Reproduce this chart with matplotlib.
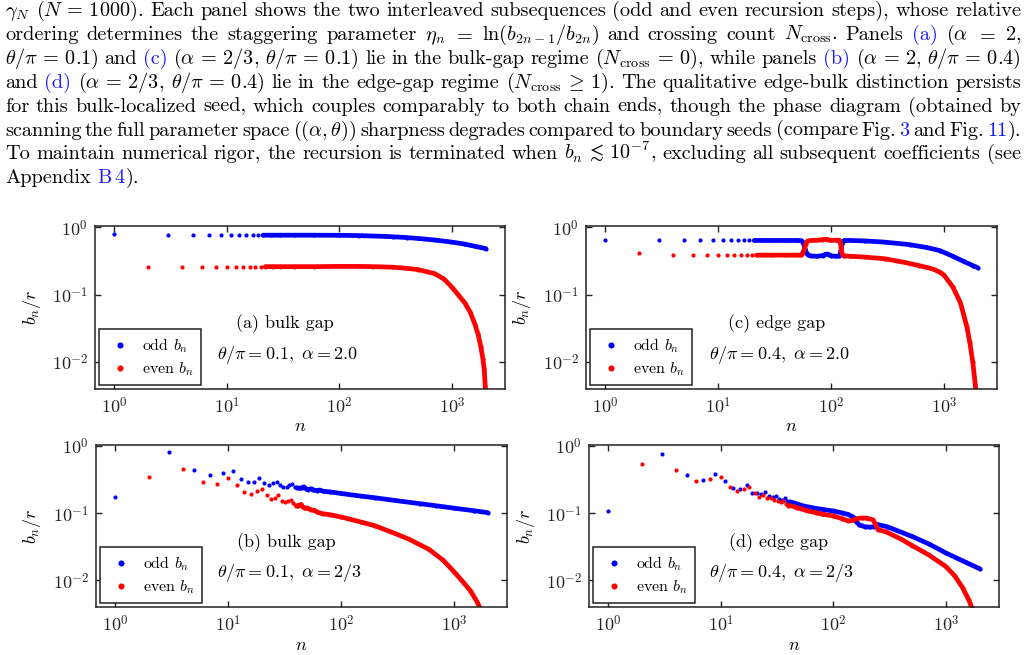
import matplotlib
matplotlib.use('Agg')
import matplotlib.pyplot as plt
from matplotlib.lines import Line2D
import numpy as np

plt.rcParams['font.family'] = 'serif'
plt.rcParams['font.serif'] = ['cmr10']
plt.rcParams['mathtext.fontset'] = 'cm'
plt.rcParams['axes.formatter.use_mathtext'] = True

# ---- caption text above the figure (blue link parts between § marks) ----
PAR_LINES = [
    r"$\gamma_N$ ($N\,=\,1000$). Each panel shows the two interleaved subsequences (odd and even recursion steps), whose relative",
    r"ordering determines the staggering parameter $\eta_n$ $=$ $\ln(b_{2n-1}/b_{2n})$ and crossing count $N_{\mathrm{cross}}$. Panels §(a)§ ($\alpha$ $=$ $2$,",
    r"$\theta/\pi\,=\,0.1$) and §(c)§ ($\alpha\,=\,2/3$, $\theta/\pi\,=\,0.1$) lie in the bulk-gap regime ($N_{\mathrm{cross}}\,=\,0$), while panels §(b)§ ($\alpha\,=\,2$, $\theta/\pi\,=\,0.4$)",
    r"and §(d)§ ($\alpha\,=\,2/3$, $\theta/\pi\,=\,0.4$) lie in the edge-gap regime ($N_{\mathrm{cross}}\,\geq\,1$). The qualitative edge-bulk distinction persists",
    r"for this bulk-localized seed, which couples comparably to both chain ends, though the phase diagram (obtained by",
    r"scanning the full parameter space ($(\alpha, \theta)$) sharpness degrades compared to boundary seeds (compare Fig. §3§ and Fig. §11§).",
    r"To maintain numerical rigor, the recursion is terminated when $b_n\,\lesssim\,10^{-7}$, excluding all subsequent coefficients (see",
    r"Appendix §B$\,$4§).",
]

# ---- panel data ----
# (a) bulk gap, theta/pi = 0.1, alpha = 2.0
N_ODD_A = [1, 3, 5, 7, 9, 11, 13, 15, 17, 19, 21, 25, 30, 40, 60, 100, 150, 250, 300,
           400, 500, 700, 1000, 1300, 1600, 1999]
B_ODD_A = [0.79, 0.76, 0.76, 0.76, 0.76, 0.76, 0.76, 0.76, 0.76, 0.76, 0.76, 0.76, 0.76,
           0.76, 0.76, 0.757, 0.75, 0.73, 0.72, 0.70, 0.68, 0.645, 0.60, 0.56, 0.52, 0.48]
N_EVEN_A = [2, 4, 6, 8, 10, 12, 14, 16, 18, 20, 22, 26, 30, 40, 60, 100, 150, 200, 300,
            400, 500, 700, 850, 1000, 1150, 1300, 1450, 1600, 1700, 1800, 1880, 1930, 1970, 2000]
B_EVEN_A = [0.26, 0.26, 0.26, 0.26, 0.26, 0.26, 0.26, 0.26, 0.26, 0.26, 0.26, 0.26, 0.26,
            0.26, 0.26, 0.262, 0.262, 0.26, 0.255, 0.245, 0.235, 0.205, 0.17, 0.128, 0.097,
            0.075, 0.055, 0.036, 0.026, 0.017, 0.011, 0.0078, 0.0045, 0.0025]

# (c) edge gap, theta/pi = 0.4, alpha = 2.0
N_ODD_C = [1, 3, 5, 7, 9, 11, 13, 15, 17, 19, 21, 25, 30, 40, 50, 55, 57, 59, 61, 63, 67,
           75, 85, 89, 93, 97, 101, 111, 119, 121, 123, 125, 127, 131, 150, 200, 300, 500,
           700, 920, 1200, 1500, 1800, 1999]
B_ODD_C = [0.64, 0.635, 0.635, 0.635, 0.635, 0.635, 0.635, 0.635, 0.635, 0.635, 0.635,
           0.635, 0.635, 0.635, 0.635, 0.63, 0.58, 0.48, 0.41, 0.385, 0.375, 0.37, 0.38,
           0.395, 0.40, 0.39, 0.375, 0.37, 0.375, 0.40, 0.47, 0.56, 0.61, 0.635, 0.635,
           0.625, 0.60, 0.55, 0.50, 0.45, 0.37, 0.31, 0.27, 0.25]
N_EVEN_C = [2, 4, 6, 8, 10, 12, 14, 16, 18, 20, 22, 26, 30, 40, 50, 54, 56, 58, 60, 62, 66,
            74, 84, 88, 92, 96, 100, 110, 118, 120, 122, 124, 126, 130, 150, 200, 300, 450,
            600, 800, 920, 1000, 1200, 1400, 1600, 1700, 1800, 1900, 1950]
B_EVEN_C = [0.42, 0.39, 0.385, 0.385, 0.385, 0.385, 0.385, 0.385, 0.385, 0.385, 0.385,
            0.385, 0.385, 0.385, 0.385, 0.385, 0.40, 0.47, 0.57, 0.62, 0.635, 0.64, 0.65,
            0.665, 0.66, 0.645, 0.64, 0.64, 0.64, 0.62, 0.55, 0.45, 0.40, 0.375, 0.37, 0.36,
            0.34, 0.30, 0.27, 0.24, 0.215, 0.195, 0.13, 0.076, 0.033, 0.019, 0.010, 0.0045,
            0.003]

# (b) bulk gap, theta/pi = 0.1, alpha = 2/3
N_ODD_B = [1, 3, 5, 7, 9, 11, 13, 15, 17, 19, 21, 23, 25, 27, 29, 31, 33, 35, 37, 39, 41,
           43, 45, 47, 49, 51, 55, 57, 61, 65, 70, 80, 100, 150, 200, 300, 500, 700, 1000,
           1500, 1999]
B_ODD_B = [0.175, 0.815, 0.447, 0.37, 0.403, 0.427, 0.325, 0.297, 0.297, 0.336, 0.283,
           0.268, 0.283, 0.297, 0.264, 0.25, 0.245, 0.262, 0.272, 0.25, 0.24, 0.235, 0.24,
           0.248, 0.232, 0.225, 0.232, 0.222, 0.218, 0.222, 0.212, 0.208, 0.197, 0.18, 0.17,
           0.155, 0.139, 0.129, 0.119, 0.109, 0.102]
N_EVEN_B = [2, 4, 6, 8, 10, 12, 14, 16, 18, 20, 22, 24, 26, 28, 30, 32, 34, 36, 38, 40, 42,
            44, 46, 48, 50, 54, 58, 62, 66, 70, 80, 100, 150, 200, 300, 400, 600, 800, 1000,
            1200, 1400, 1600, 1750]
B_EVEN_B = [0.344, 0.46, 0.293, 0.271, 0.34, 0.263, 0.204, 0.194, 0.213, 0.231, 0.186,
            0.162, 0.17, 0.19, 0.151, 0.145, 0.15, 0.16, 0.14, 0.13, 0.128, 0.135, 0.125,
            0.118, 0.12, 0.113, 0.11, 0.104, 0.10, 0.098, 0.095, 0.088, 0.074, 0.065, 0.05,
            0.041, 0.029, 0.02, 0.0135, 0.0095, 0.007, 0.0048, 0.0035]

# (d) edge gap, theta/pi = 0.4, alpha = 2/3
N_ODD_D = [1, 3, 5, 7, 9, 11, 13, 15, 17, 19, 21, 23, 25, 27, 29, 31, 33, 35, 37, 39, 41,
           45, 49, 55, 60, 70, 80, 100, 120, 135, 150, 160, 170, 190, 210, 230, 245, 300,
           500, 700, 1000, 1500, 1999]
B_ODD_D = [0.109, 0.76, 0.377, 0.314, 0.381, 0.30, 0.239, 0.231, 0.264, 0.201, 0.197,
           0.192, 0.206, 0.18, 0.175, 0.18, 0.165, 0.16, 0.168, 0.15, 0.148, 0.142, 0.135,
           0.128, 0.124, 0.118, 0.114, 0.108, 0.101, 0.096, 0.088, 0.075, 0.067, 0.063,
           0.062, 0.063, 0.068, 0.063, 0.045, 0.035, 0.0255, 0.0185, 0.0148]
N_EVEN_D = [2, 4, 6, 8, 10, 12, 14, 16, 18, 20, 22, 24, 26, 28, 30, 32, 34, 36, 38, 40, 44,
            48, 52, 56, 60, 70, 80, 100, 120, 135, 150, 160, 180, 200, 225, 240, 250, 300,
            400, 500, 700, 1000, 1200, 1400, 1600, 1700]
B_EVEN_D = [0.535, 0.44, 0.303, 0.321, 0.347, 0.242, 0.213, 0.23, 0.25, 0.20, 0.175,
            0.19, 0.166, 0.17, 0.158, 0.15, 0.145, 0.15, 0.135, 0.13, 0.127, 0.12, 0.117,
            0.112, 0.108, 0.102, 0.097, 0.091, 0.083, 0.077, 0.078, 0.083, 0.085, 0.084,
            0.08, 0.065, 0.057, 0.052, 0.041, 0.033, 0.024, 0.016, 0.0115, 0.0078, 0.005,
            0.0038]

PANEL_TITLES = ['(a) bulk gap', '(c) edge gap', '(b) bulk gap', '(d) edge gap']
PANEL_PARAMS = [r'$\theta/\pi=0.1,\ \alpha=2.0$', r'$\theta/\pi=0.4,\ \alpha=2.0$',
                r'$\theta/\pi=0.1,\ \alpha=2/3$', r'$\theta/\pi=0.4,\ \alpha=2/3$']
LEGEND_LABELS = [r'odd $b_n$', r'even $b_n$']
XTICKS = [1, 10, 100, 1000]
XTICK_LABELS = [r'$10^{0}$', r'$10^{1}$', r'$10^{2}$', r'$10^{3}$']
YTICKS = [1e-2, 1e-1, 1]
YTICK_LABELS = [r'$10^{-2}$', r'$10^{-1}$', r'$10^{0}$']

W, H = 1027, 655
fig = plt.figure(figsize=(W / 100, H / 100), dpi=100)
renderer = fig.canvas.get_renderer()

PAR_SIZE = 14.6
LINK_COLOR = '#1a1aff'
X0, X1 = 5, 1021
BASE0, STEP = 16.0, 23.9


def split_words(line):
    words, cur, in_math = [], '', False
    for ch in line:
        if ch == '$':
            in_math = not in_math
        if ch == ' ' and not in_math:
            words.append(cur)
            cur = ''
        else:
            cur += ch
    words.append(cur)
    return words


def draw_par_line(line, y, justify):
    items = []
    for w in split_words(line):
        segs = []
        for i, s in enumerate(w.split('§')):
            if not s:
                continue
            col = LINK_COLOR if i % 2 else 'black'
            t = fig.text(0, 1 - y / H, s, color=col, fontsize=PAR_SIZE,
                         ha='left', va='baseline')
            segs.append((t, t.get_window_extent(renderer).width))
        items.append(segs)
    total = sum(wd for segs in items for _, wd in segs)
    gap = (X1 - X0 - total) / (len(items) - 1) if justify else 6.8
    x = X0
    for segs in items:
        for t, wd in segs:
            t.set_x(x / W)
            x += wd
        x += gap


for i, line in enumerate(PAR_LINES):
    draw_par_line(line, BASE0 + i * STEP, justify=(i < len(PAR_LINES) - 1))


def px_box(l, t, r, b):
    return [l / W, 1 - b / H, (r - l) / W, (b - t) / H]


boxes = [px_box(95, 226, 505, 389), px_box(586, 226, 997, 389),
         px_box(96, 445, 507, 607), px_box(589, 445, 999, 607)]
data = [(N_ODD_A, B_ODD_A, N_EVEN_A, B_EVEN_A),
        (N_ODD_C, B_ODD_C, N_EVEN_C, B_EVEN_C),
        (N_ODD_B, B_ODD_B, N_EVEN_B, B_EVEN_B),
        (N_ODD_D, B_ODD_D, N_EVEN_D, B_EVEN_D)]
line_from = [21, 21, 40, 40]   # where the dots merge into a continuous band
xlabel_y = [-0.184, -0.184, -0.19, -0.19]

for k in range(4):
    ax = fig.add_axes(boxes[k])
    n_odd, b_odd, n_even, b_even = data[k]
    for n, b, col in ((n_odd, b_odd, 'blue'), (n_even, b_even, 'red')):
        n = np.asarray(n, dtype=float)
        b = np.asarray(b, dtype=float)
        m = n >= line_from[k]
        ax.plot(n[m], b[m], '-', color=col, lw=3.4, solid_capstyle='round',
                solid_joinstyle='round')
        ax.plot(n, b, 'o', color=col, ms=3.0, mew=0)
    ax.set_xscale('log')
    ax.set_yscale('log')
    ax.set_xlim(0.68, 2950)
    ax.set_ylim(0.004, 1.04)
    ax.set_xticks(XTICKS)
    ax.set_xticklabels(XTICK_LABELS)
    ax.set_yticks(YTICKS)
    ax.set_yticklabels(YTICK_LABELS)
    ax.minorticks_off()
    ax.tick_params(direction='in', top=True, right=True, length=4, width=1,
                   labelsize=13, pad=5, colors='#222222')
    for sp in ax.spines.values():
        sp.set_linewidth(1.1)
        sp.set_color('#222222')
    ax.set_xlabel(r'$n$', fontsize=13)
    ax.xaxis.set_label_coords(0.5, xlabel_y[k])
    ax.set_ylabel(r'$b_n/r$', fontsize=13)
    ax.yaxis.set_label_coords(-0.128, 0.5)

    ax.text(0.463, 0.40, PANEL_TITLES[k], transform=ax.transAxes, ha='center',
            va='center', fontsize=13)
    ax.text(0.47, 0.21, PANEL_PARAMS[k], transform=ax.transAxes, ha='center',
            va='center', fontsize=13)

    handles = [Line2D([], [], ls='none', marker='o', color=c, ms=4.4, mew=0)
               for c in ('blue', 'red')]
    leg = ax.legend(handles, LEGEND_LABELS, loc='lower left', fontsize=11.5,
                    frameon=True, fancybox=False, edgecolor='#222222', framealpha=1,
                    borderaxespad=0.25, borderpad=0.45, labelspacing=0.3,
                    handlelength=1.75, handletextpad=0.5)
    leg.get_frame().set_linewidth(1.1)

fig.savefig('out.png', dpi=100)
